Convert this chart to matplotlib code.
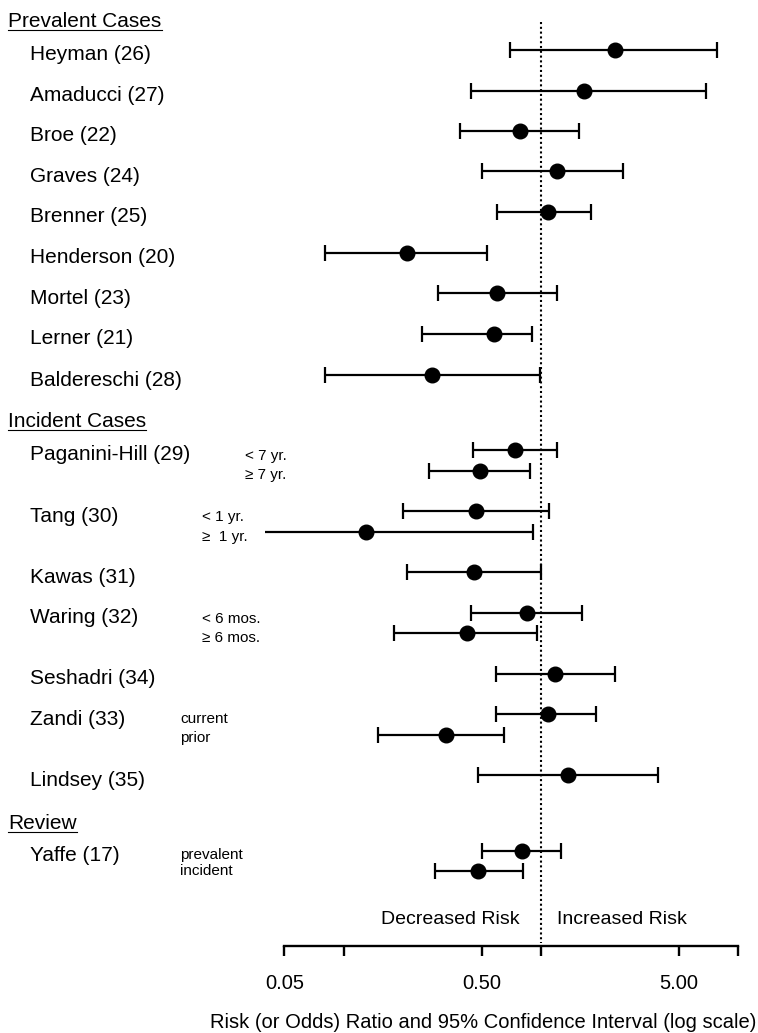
import numpy as np
import matplotlib
matplotlib.use("Agg")
from matplotlib import pyplot as plt
from matplotlib.lines import Line2D
from matplotlib.transforms import blended_transform_factory, IdentityTransform

plt.rcParams['font.family'] = ['Liberation Sans', 'DejaVu Sans']

# ---------------------------------------------------------------
# data (one entry per estimate row)
row_label = ["Heyman (26)", "Amaducci (27)", "Broe (22)", "Graves (24)",
             "Brenner (25)", "Henderson (20)", "Mortel (23)", "Lerner (21)",
             "Baldereschi (28)",
             "Paganini-Hill (29)", "", "Tang (30)", "", "Kawas (31)",
             "Waring (32)", "", "Seshadri (34)", "Zandi (33)", "",
             "Lindsey (35)",
             "Yaffe (17)", ""]
sub_label = ["", "", "", "", "", "", "", "", "",
             "< 7 yr.", "\u2265 7 yr.", "< 1 yr.", "\u2265  1 yr.", "",
             "< 6 mos.", "\u2265 6 mos.", "", "current", "prior", "",
             "prevalent", "incident"]
ratio = [2.38, 1.66, 0.78, 1.20, 1.09, 0.21, 0.60, 0.58, 0.28,
         0.74, 0.49, 0.47, 0.13, 0.46, 0.85, 0.42, 1.18, 1.08, 0.33,
         1.37, 0.80, 0.48]
ci_low = [0.70, 0.44, 0.39, 0.50, 0.60, 0.080, 0.30, 0.25, 0.080,
          0.45, 0.27, 0.20, 0.040, 0.21, 0.44, 0.18, 0.59, 0.59, 0.15,
          0.48, 0.50, 0.29]
ci_high = [7.76, 6.83, 1.56, 2.59, 1.79, 0.53, 1.20, 0.90, 0.985,
           1.20, 0.88, 1.10, 0.91, 1.00, 1.62, 0.96, 2.37, 1.91, 0.65,
           3.93, 1.27, 0.81]
low_cap = [True] * 22
low_cap[12] = False   # Tang >= 1 yr runs off the scale

headers = ["Prevalent Cases", "Incident Cases", "Review"]

tick_vals = [0.05, 0.1, 0.5, 1, 5, 10]
tick_text = ["0.05", "", "0.50", "", "5.00", ""]

# ---------------------------------------------------------------
# layout (pixels from the top of the figure)
W, H = 758, 1033
row_y = [50, 90.5, 130.5, 171, 211.7, 252.7, 293.3, 334, 375,
         450, 470.7, 511, 532.3, 572.3, 612.7, 633.3, 674, 714.3, 734.7,
         775.3, 850.7, 871.3]
sub_x = [0] * 9 + [245, 245, 202, 202, 0, 202, 202, 0, 180, 180, 0, 180, 180]
sub_dy = [0] * 9 + [10, 8.5, 10, 8.3, 0, 10, 8.8, 0, 8.5, 7.5, 0, 7.8, 4]
header_y = [26.7, 427, 829]
ax_left, ax_right, ax_bottom = 284.3, 738.3, 946

fig = plt.figure(figsize=(W / 100, H / 100), dpi=100)
ax = fig.add_axes([ax_left / W, (H - ax_bottom) / H,
                   (ax_right - ax_left) / W, ax_bottom / H])
ax.set_xscale('log')
ax.set_xlim(0.05, 10)
ax.set_ylim(ax_bottom, 0)
for s in ['top', 'left', 'right']:
    ax.spines[s].set_visible(False)
ax.spines['bottom'].set_linewidth(1.7)
ax.set_yticks([])
ax.set_xticks(tick_vals)
ax.set_xticklabels(tick_text)
ax.minorticks_off()
ax.tick_params(axis='x', direction='out', length=7.3, width=1.7,
               labelsize=14.5, pad=13)

# reference line at 1
ax.vlines(1, 22, 943, colors='black', linewidth=1.5,
          linestyles=(0, (1, 1.3)), clip_on=False)

lo = np.array(ci_low)
hi = np.array(ci_high)
yy = np.array(row_y)
ax.hlines(yy, lo, hi, colors='black', linewidth=1.6, clip_on=False)
capped = np.array(low_cap)
ax.plot(lo[capped], yy[capped], ls='none', marker='|', ms=11.5,
        mew=1.6, color='black', clip_on=False)
ax.plot(hi, yy, ls='none', marker='|', ms=11.5, mew=1.6, color='black',
        clip_on=False)
ax.plot(ratio, yy, ls='none', marker='o', ms=10.5, color='black',
        clip_on=False, zorder=5)

trans = blended_transform_factory(fig.transFigure, ax.transData)
for lab, sl, sx, dy, y in zip(row_label, sub_label, sub_x, sub_dy, row_y):
    if lab:
        ax.text(30 / W, y + 10.5, lab, transform=trans, fontsize=15,
                va='baseline', ha='left')
    if sl:
        ax.text(sx / W, y + dy, sl, transform=trans, fontsize=11,
                va='baseline', ha='left')

head_texts = []
for h, y in zip(headers, header_y):
    t = ax.text(8.3 / W, y, h, transform=trans, fontsize=15,
                va='baseline', ha='left')
    head_texts.append((t, y))

ax.text(520 / W, 919, "Decreased Risk", transform=trans, fontsize=14,
        va='center', ha='right')
ax.text(556.7 / W, 919, "Increased Risk", transform=trans, fontsize=14,
        va='center', ha='left')
ax.text(756 / W, 1022, "Risk (or Odds) Ratio and 95% Confidence Interval (log scale)",
        transform=trans, fontsize=14.5, va='center', ha='right', clip_on=False)

# underline the section headers
fig.canvas.draw()
rend = fig.canvas.get_renderer()
for t, y in head_texts:
    bb = t.get_window_extent(renderer=rend)
    yd = ax.transData.transform((1, y + 2.8))[1]
    fig.add_artist(Line2D([bb.x0, bb.x1], [yd, yd], transform=IdentityTransform(),
                          color='black', linewidth=0.8))

fig.savefig("out.png", dpi=100)
